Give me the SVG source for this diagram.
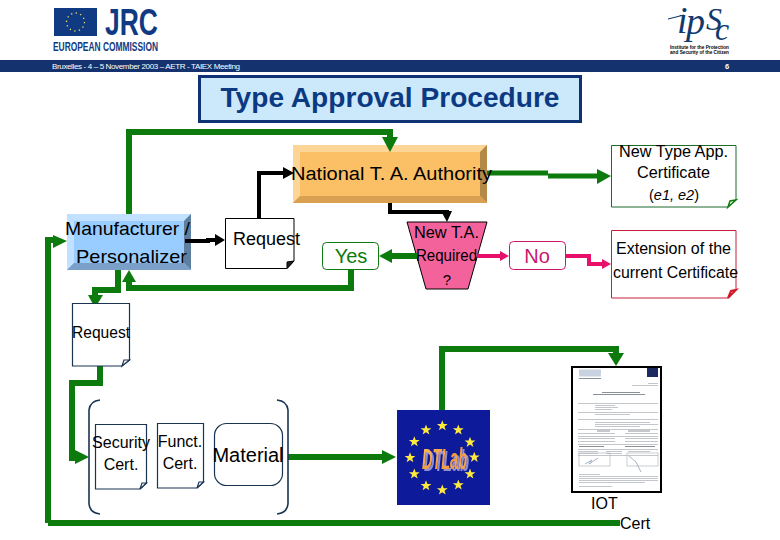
<svg xmlns="http://www.w3.org/2000/svg" width="780" height="540" viewBox="0 0 780 540">
<defs>
<path id="star" d="M0-5.500L1.400-1.800H5.400L2.200.700L3.400 4.600L0 2.300L-3.400 4.600L-2.200.700L-5.400-1.800H-1.400Z" fill="#ffe93c"/>
<linearGradient id="dt" x1="0" y1="0" x2="1" y2="1"><stop offset="0" stop-color="#f8c060"/><stop offset=".5" stop-color="#f59a3c"/><stop offset="1" stop-color="#f0a850"/></linearGradient>
<filter id="sh" x="-20%" y="-20%" width="140%" height="140%"><feDropShadow dx="2" dy="2" stdDeviation=".6" flood-color="#8f8fd0"/></filter>
</defs>
<style>
text{font-family:"Liberation Sans",Arial,sans-serif;fill:#000}
.m{text-anchor:middle}
.t16{font-size:16px}
.ser{font-family:"Liberation Serif",serif;font-style:italic;fill:#103a6e}
.gl{fill:none;stroke:#0d7a0d;stroke-width:6}
.kl{fill:none;stroke:#000;stroke-width:4}
.pl{fill:none;stroke:#e8106a;stroke-width:4}
.gh{fill:#0d7a0d}
.doc{fill:#fff;stroke:#1a3552;stroke-width:1.200}
.br{fill:none;stroke:#1a3552;stroke-width:1.600}
.l{stroke:#b4b8be;stroke-width:.8;fill:none}
.d{stroke:#8a8f98;stroke-width:1;fill:none}
</style>
<rect width="780" height="540" fill="#fff"/>
<g id="header">
<rect x="54" y="8" width="43" height="28" fill="#103a82"/>
<circle cx="75.500" cy="22" r="9" fill="none" stroke="#f0e060" stroke-width="1.300" stroke-dasharray="1.300 3.400"/>
<text x="105" y="35" style="font-size:36px;font-weight:bold;fill:#103a82" textLength="53" lengthAdjust="spacingAndGlyphs">JRC</text>
<text x="53" y="51" style="font-size:12px;font-weight:bold;fill:#103a82" textLength="105" lengthAdjust="spacingAndGlyphs">EUROPEAN COMMISSION</text>
<rect x="0" y="60" width="780" height="12" fill="#14336e"/>
<text x="52" y="69" style="font-size:8px;fill:#fff" textLength="188" lengthAdjust="spacing">Bruxelles - 4 – 5 November 2003 – AETR - TAIEX Meeting</text>
<text x="727" y="69" class="m" style="font-size:7.500px;font-weight:bold;fill:#fff">6</text>
<path d="M668 19L684 15" stroke="#103a6e" stroke-width="1.200" fill="none"/>
<text class="ser"><tspan x="677" y="33" style="font-size:38px">i</tspan><tspan x="686" y="34" style="font-size:38px">p</tspan><tspan x="706" y="30" style="font-size:32px">S</tspan><tspan x="715" y="40" style="font-size:32px">c</tspan></text>
<text x="670" y="49" style="font-size:4.500px;font-weight:bold" textLength="59" lengthAdjust="spacingAndGlyphs">Institute for the Protection</text>
<text x="670" y="54" style="font-size:4.500px;font-weight:bold" textLength="59" lengthAdjust="spacingAndGlyphs">and Security of the Citizen</text>
</g>
<g id="title">
<rect x="199.500" y="76.500" width="381" height="45" fill="#cce8fb" stroke="#0f3274" stroke-width="3"/>
<text x="390" y="107" class="m" style="font-size:28px;font-weight:bold;fill:#0b3a82" textLength="339" lengthAdjust="spacingAndGlyphs">Type Approval Procedure</text>
</g>
<g id="national">
<rect x="293" y="145" width="194" height="58" fill="#fbbf66"/>
<path d="M293 145H487L480 152H300Z" fill="#fdd596"/><path d="M293 145V203L300 196V152Z" fill="#fdd596"/>
<path d="M487 145V203L480 196V152Z" fill="#b58a48"/><path d="M293 203H487L480 196H300Z" fill="#d9a052"/>
</g>
<g id="manufacturer">
<rect x="67" y="214" width="124" height="56" fill="#99ccff"/>
<path d="M67 214H191L184 221H74Z" fill="#c2e0ff"/><path d="M67 214V270L74 263V221Z" fill="#c2e0ff"/>
<path d="M191 214V270L184 263V221Z" fill="#5f7fa0"/><path d="M67 270H191L184 263H74Z" fill="#7a9fc8"/>
</g>
<g id="connectors">
<path class="gl" d="M129 214V132H390V140"/><path class="gh" d="M382 137H398L390 152Z"/>
<path class="kl" d="M259 218V173H285"/><path d="M283 167L294 173L283 179Z"/>
<path class="kl" d="M185 241H208V240H216"/><path d="M215 234L225 240L215 246Z"/>
<path class="gl" d="M351 270V288H129V280"/><path class="gh" d="M122 282H136L129 270Z"/>
<path class="gl" d="M118 270V290H95V298"/><path class="gh" d="M88 295H103L95 308Z"/>
<path class="gl" d="M100 366V383H72V458H78"/><path class="gh" d="M75 450V464L89 457Z"/>
<path class="gl" d="M48 523V240H56"/><path class="gh" d="M53 235V248L67 241Z"/>
<path class="gl" d="M620 523H48"/>
<path class="gl" d="M288 457H384"/><path class="gh" d="M382 450V464L396 457Z"/>
<path class="gl" d="M442 410V349H616V356"/><path class="gh" d="M608 353H624L616 366Z"/>
<path class="kl" d="M390 203V212H447V214"/><path d="M441 211H452L447 222Z"/>
<path d="M487 170.500H548V173.500H600V178.500H548V175.500H487Z" fill="#0d7a0d"/><path class="gh" d="M597 169V184L611 176Z"/>
</g>
<g id="request1">
<path d="M225.500 218.500H294V261L287 268.500H225.500Z" fill="#fff" stroke="#000"/><path d="M287 268.500V262L294 261Z" fill="#222" stroke="#000"/>
<text x="233" y="245" style="font-size:17.500px" textLength="67" lengthAdjust="spacingAndGlyphs">Request</text>
</g>
<g id="trapezoid">
<path d="M407 222H487L468 289H426Z" fill="#f4629c" stroke="#000"/>
</g>
<g id="connectors2">
<path class="gl" d="M417 256H390"/><path class="gh" d="M392 249V263L379 256Z"/>
<path class="pl" d="M477 256H502"/><path d="M500 251V261L509 256Z" fill="#e8106a"/>
<path class="pl" d="M566 256H589V264H604"/><path d="M602 259V269L611 264Z" fill="#e8106a"/>
</g>
<g id="yes">
<rect x="322.500" y="242.500" width="56" height="27" rx="4" fill="#fff" stroke="#0d7a0d"/>
<text x="351" y="263" class="m" style="font-size:20px;fill:#0d7a0d">Yes</text>
</g>
<g id="no">
<rect x="509.500" y="241.500" width="56" height="28" rx="4" fill="#fff" stroke="#c8186e"/>
<text x="537" y="263" class="m" style="font-size:20px;fill:#c8186e">No</text>
</g>
<g id="new-type-cert">
<path d="M611.500 145.500H736V200L728 207H611.500Z" fill="#fff" stroke="#1b6b2b"/><path d="M728 207L730 201L736 200Z" fill="#fff" stroke="#0d7a0d" stroke-width="1.500"/>
<text x="619" y="157" style="font-size:16px" textLength="109" lengthAdjust="spacingAndGlyphs">New Type App.</text>
<text x="637" y="178" style="font-size:16px" textLength="73" lengthAdjust="spacingAndGlyphs">Certificate</text>
<text x="649" y="200" style="font-size:15px" textLength="50" lengthAdjust="spacingAndGlyphs">(<tspan font-style="italic">e1, e2</tspan>)</text>
</g>
<g id="extension">
<path d="M611.500 230.500H736V290L728 298H611.500Z" fill="#fff" stroke="#c81e3c"/><path d="M728 298L731 291L736 290Z" fill="#fff" stroke="#d01828" stroke-width="2"/>
<text x="616" y="254" style="font-size:16px" textLength="115" lengthAdjust="spacingAndGlyphs">Extension of the</text>
<text x="613" y="278" style="font-size:16px" textLength="125" lengthAdjust="spacingAndGlyphs">current Certificate</text>
</g>
<g id="request2">
<path class="doc" d="M72.500 303.500H129.500V360L122 366H72.500Z"/><path class="doc" d="M122 366L124 360L129.500 360Z"/>
<text x="72" y="338" class="t16" textLength="58" lengthAdjust="spacingAndGlyphs">Request</text>
</g>
<g id="brackets">
<path class="br" d="M100 400Q90 401 89 410V504Q90 513 100 514"/>
<path class="br" d="M277 400Q287 401 288 410V504Q287 513 277 514"/>
</g>
<g id="security">
<path class="doc" d="M95.500 424.500H146.500V483L140 489H95.500Z"/><path class="doc" d="M140 489L142 483L146.500 483Z"/>
<text x="121" y="448" class="m t16">Security</text><text x="121" y="470" class="m t16">Cert.</text>
</g>
<g id="funct">
<path class="doc" d="M157.500 423.500H203.500V482L197 488H157.500Z"/><path class="doc" d="M197 488L199 482L203.500 482Z"/>
<text x="180" y="447" class="m t16">Funct.</text><text x="180" y="469" class="m t16">Cert.</text>
</g>
<g id="material">
<rect x="214.500" y="423.500" width="68" height="62" rx="12" fill="#fff" stroke="#1a3552" stroke-width="1.200"/>
<text x="248" y="462" class="m" style="font-size:20px">Material</text>
</g>
<g id="dtlab">
<rect x="397" y="410" width="93" height="95" fill="#0d1a9a"/>
<use href="#star" x="442.300" y="425.700"/><use href="#star" x="458.300" y="430"/><use href="#star" x="470" y="442.300"/><use href="#star" x="474.300" y="457.300"/><use href="#star" x="470" y="474"/><use href="#star" x="458.300" y="485"/><use href="#star" x="442.300" y="490"/><use href="#star" x="426" y="485.700"/><use href="#star" x="414.300" y="474"/><use href="#star" x="410" y="457.700"/><use href="#star" x="414.300" y="441.700"/><use href="#star" x="426" y="430"/>
<text x="422" y="469" filter="url(#sh)" style="font-size:30px;font-weight:bold;font-style:italic;fill:url(#dt)" textLength="45" lengthAdjust="spacingAndGlyphs">DTLab</text>
</g>
<g id="iot-doc">
<rect x="572" y="367" width="89" height="125" fill="#fff" stroke="#000" stroke-width="2"/>
<rect x="579" y="369.500" width="22" height="7" fill="#c8d2e0"/>
<path class="d" d="M579 378.500H601"/>
<rect x="647" y="368" width="11" height="9" fill="#1c2a60"/>
<path class="l" d="M648 383.500H658M632 385.500H658"/>
<path class="d" d="M602 392.500H640M593 394.500H645"/>
<path class="l" d="M578 403.500H658M578 412.500H658M578 419.500H658M578 429.500H658M578 436.500H658M578 444.500H658M578 449.500H658M578 455.500H658"/>
<path class="l" d="M595 405.500H615M595 407.500H618M595 409.500H612M595 414.500H630M595 422.500H650M595 424.500H658M595 426.500H640"/>
<path class="d" d="M597 431H610M628 431H650"/>
<path class="l" d="M578 433.500H615M625 433.500H658M578 438.500H615M625 438.500H658M578 441.500H615M625 441.500H658"/>
<path class="d" d="M579 446.500H604M625 446.500H655"/>
<path class="l" d="M578 451.500H598M606 451.500H622M628 451.500H650M578 453.500H598M606 453.500H622"/>
<rect x="579" y="453" width="31" height="13" fill="none" stroke="#b4b8be" stroke-width=".7"/>
<rect x="627" y="453" width="31" height="13" fill="none" stroke="#b4b8be" stroke-width=".7"/>
<path d="M585 464L592 460L589 464L598 458M629 456L636 462L641 472" stroke="#8fa0b8" stroke-width=".8" fill="none"/>
<path class="l" d="M579 474.500H600M579 476.500H658M579 478.500H658M579 480.500H658M579 482.500H645M579 486.500H612"/>
</g>
<g id="labels">
<text x="291" y="180" style="font-size:18px" textLength="201" lengthAdjust="spacingAndGlyphs">National T. A. Authority</text>
<text x="65" y="235" style="font-size:19px" textLength="125" lengthAdjust="spacingAndGlyphs">Manufacturer /</text>
<text x="76" y="263" style="font-size:19px" textLength="111" lengthAdjust="spacingAndGlyphs">Personalizer</text>
<text x="414" y="238" style="font-size:16px" textLength="65" lengthAdjust="spacingAndGlyphs">New T.A.</text>
<text x="416" y="261" style="font-size:16px" textLength="61" lengthAdjust="spacingAndGlyphs">Required</text>
<text x="447" y="285" class="m" style="font-size:15px">?</text>
<text x="591" y="509" class="t16">IOT</text>
<text x="620" y="529" class="t16">Cert</text>
</g>
</svg>
